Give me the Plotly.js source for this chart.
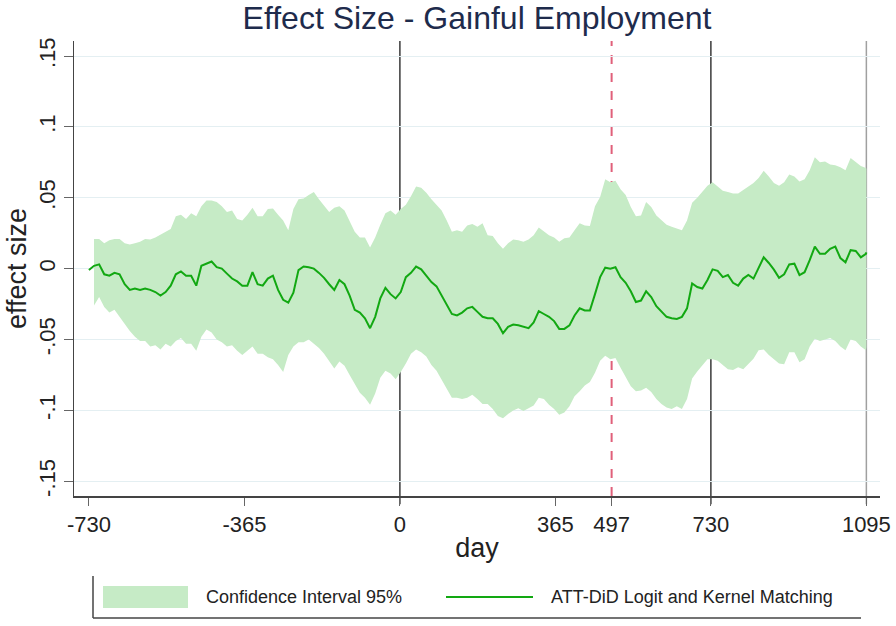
<!DOCTYPE html>
<html>
<head>
<meta charset="utf-8">
<script src="https://cdn.plot.ly/plotly-3.0.1.min.js"></script>
<style>html,body{margin:0;padding:0;background:#fff;}#chart{width:896px;height:626px;}</style>
</head>
<body>
<div id="chart"></div>
<script>
// day axis of the estimated effect
var days = [-730,-718,-706,-694,-682,-670,-658,-646,-634,-622,-610,-598,-586,-574,-562,-550,-538,-526,-514,-502,
-490,-478,-466,-454,-442,-430,-418,-406,-394,-382,-370,-358,-346,-334,-322,-310,-298,-286,-274,-262,
-250,-238,-226,-214,-202,-190,-178,-166,-154,-142,-130,-118,-106,-94,-82,-70,-58,-46,-34,-22,
-10,2,14,26,38,50,62,74,86,98,110,122,134,146,158,170,182,194,206,218,
230,242,254,266,278,290,302,314,326,338,350,362,374,386,398,410,422,434,446,458,
470,482,494,506,518,530,542,554,566,578,590,602,614,626,638,650,662,674,686,698,
710,722,734,746,758,770,782,794,806,818,830,842,854,866,878,890,902,914,926,938,
950,962,974,986,998,1010,1022,1034,1046,1058,1070,1082,1094,1095];

// ATT-DiD Logit and Kernel Matching
var att = [-0.001,0.002,0.003,-0.004,-0.005,-0.003,-0.004,-0.011,-0.015,-0.014,-0.015,-0.014,-0.015,-0.0165,-0.019,-0.0165,-0.012,-0.004,-0.002,-0.005,
-0.005,-0.012,0.002,0.0035,0.005,0.001,0,-0.0035,-0.007,-0.009,-0.012,-0.012,-0.0025,-0.011,-0.012,-0.007,-0.005,-0.015,-0.022,-0.024,
-0.017,-0.001,0.0015,0.001,0,-0.003,-0.0065,-0.011,-0.015,-0.008,-0.011,-0.019,-0.029,-0.031,-0.035,-0.042,-0.034,-0.021,-0.0135,-0.018,
-0.021,-0.0165,-0.006,-0.003,0.0015,-0.0005,-0.005,-0.0095,-0.0125,-0.019,-0.025,-0.032,-0.033,-0.031,-0.028,-0.027,-0.0305,-0.034,-0.035,-0.035,
-0.039,-0.0455,-0.041,-0.0395,-0.040,-0.041,-0.042,-0.038,-0.030,-0.032,-0.034,-0.037,-0.0425,-0.0425,-0.040,-0.033,-0.028,-0.0295,-0.0295,-0.018,
-0.006,0.0007,0,0.001,-0.006,-0.010,-0.016,-0.0235,-0.0225,-0.016,-0.020,-0.0265,-0.0305,-0.034,-0.035,-0.0355,-0.034,-0.028,-0.0105,-0.013,
-0.014,-0.008,-0.0005,-0.0015,-0.006,-0.0045,-0.010,-0.012,-0.007,-0.0045,-0.007,0.0007,0.008,0.004,-0.0007,-0.0065,-0.004,0.003,0.0035,-0.0045,
-0.0025,0.006,0.0155,0.0105,0.0105,0.014,0.0155,0.0075,0.0045,0.013,0.0125,0.008,0.0105,0.0115];

// 95% confidence interval (starts at day -718)
var ciDays = days.slice(1);
var ciUpper = [0.021,0.021,0.018,0.020,0.021,0.021,0.018,0.017,0.018,0.019,0.021,0.0205,0.022,0.024,0.026,0.028,0.037,0.038,0.035,
0.039,0.037,0.044,0.048,0.048,0.047,0.044,0.040,0.041,0.035,0.034,0.038,0.043,0.037,0.037,0.042,0.0425,0.038,0.034,0.027,
0.042,0.049,0.0495,0.052,0.054,0.049,0.0445,0.040,0.043,0.044,0.041,0.034,0.026,0.022,0.022,0.015,0.022,0.031,0.039,0.041,
0.038,0.042,0.045,0.051,0.058,0.057,0.0535,0.049,0.045,0.041,0.034,0.026,0.027,0.026,0.0305,0.0315,0.0295,0.032,0.0235,0.023,
0.018,0.014,0.018,0.0205,0.020,0.019,0.0205,0.0235,0.029,0.026,0.0235,0.022,0.019,0.0215,0.022,0.027,0.032,0.0305,0.030,0.044,
0.0505,0.063,0.061,0.062,0.056,0.052,0.0435,0.037,0.0375,0.047,0.0435,0.0375,0.034,0.031,0.0295,0.028,0.027,0.034,0.0465,0.050,
0.054,0.0585,0.061,0.058,0.055,0.054,0.053,0.053,0.0555,0.058,0.0605,0.064,0.069,0.065,0.0605,0.0585,0.061,0.0665,0.065,0.0615,
0.063,0.0695,0.0785,0.075,0.0755,0.0735,0.073,0.0715,0.0695,0.078,0.075,0.0725,0.071,0.0705];
var ciLower = [-0.026,-0.020,-0.027,-0.031,-0.029,-0.034,-0.039,-0.044,-0.048,-0.051,-0.051,-0.055,-0.054,-0.057,-0.053,-0.055,-0.051,-0.049,-0.053,
-0.053,-0.058,-0.048,-0.043,-0.045,-0.050,-0.052,-0.055,-0.054,-0.058,-0.061,-0.058,-0.055,-0.060,-0.060,-0.0625,-0.064,-0.068,-0.073,-0.061,
-0.055,-0.052,-0.052,-0.050,-0.053,-0.056,-0.060,-0.065,-0.0705,-0.0655,-0.0685,-0.075,-0.081,-0.0875,-0.091,-0.096,-0.088,-0.077,-0.072,-0.074,
-0.078,-0.073,-0.067,-0.060,-0.057,-0.059,-0.062,-0.068,-0.072,-0.078,-0.085,-0.091,-0.091,-0.092,-0.091,-0.089,-0.092,-0.0955,-0.0955,-0.099,
-0.104,-0.1055,-0.1025,-0.100,-0.0985,-0.1005,-0.0985,-0.0965,-0.091,-0.092,-0.096,-0.099,-0.103,-0.1015,-0.097,-0.090,-0.0865,-0.0825,-0.080,-0.0735,
-0.065,-0.0615,-0.064,-0.063,-0.070,-0.076,-0.083,-0.0865,-0.086,-0.084,-0.087,-0.092,-0.0955,-0.098,-0.099,-0.097,-0.099,-0.092,-0.0775,-0.0725,
-0.068,-0.064,-0.064,-0.065,-0.068,-0.071,-0.0715,-0.0695,-0.071,-0.067,-0.0635,-0.0575,-0.057,-0.061,-0.064,-0.067,-0.0675,-0.059,-0.059,-0.066,
-0.064,-0.055,-0.0495,-0.051,-0.050,-0.049,-0.051,-0.055,-0.0575,-0.050,-0.051,-0.055,-0.0575,-0.0555];

var xTickVals = [-730,-365,0,365,497,730,1095];
var xTickText = ['-730','-365','0','365','497','730','1095'];
var yTickVals = [-0.15,-0.1,-0.05,0,0.05,0.1,0.15];
var yTickText = ['-.15','-.1','-.05','0','.05','.1','.15'];
var blackLines = [0,730];
var greyLines = [1095];
var redLines = [497];

var FONT = 'Liberation Sans, Arial, sans-serif';
var bandColor = '#c6ebc6';
var lineColor = '#12a812';

var traces = [
  {x: ciDays, y: ciLower, type: 'scatter', mode: 'lines', line: {width: 0, color: bandColor}, showlegend: false, hoverinfo: 'skip'},
  {x: ciDays, y: ciUpper, type: 'scatter', mode: 'lines', line: {width: 0, color: bandColor}, fill: 'tonexty', fillcolor: bandColor, showlegend: false, name: 'Confidence Interval 95%'},
  {x: days, y: att, type: 'scatter', mode: 'lines', line: {width: 2, color: lineColor}, showlegend: false, name: 'ATT-DiD Logit and Kernel Matching'}
];

var shapes = [];
blackLines.forEach(function(d){ shapes.push({type:'line', xref:'x', yref:'paper', x0:d, x1:d, y0:-0.018, y1:1, layer:'between', line:{color:'#3a3a3a', width:1.5}}); });
greyLines.forEach(function(d){ shapes.push({type:'line', xref:'x', yref:'paper', x0:d, x1:d, y0:-0.018, y1:1, layer:'between', line:{color:'#a0a0a0', width:1.5}}); });
redLines.forEach(function(d){ shapes.push({type:'line', xref:'x', yref:'paper', x0:d, x1:d, y0:0, y1:1, layer:'between', line:{color:'#e0607a', width:2, dash:'dash'}}); });

// custom legend (paper coordinates)
function px2x(p){ return (p - 74) / 806; }
function py2y(p){ return (496 - p) / 455; }
shapes.push({type:'line', xref:'paper', yref:'paper', x0:px2x(93), x1:px2x(93), y0:py2y(576), y1:py2y(618), line:{color:'#444', width:1.5}});
shapes.push({type:'line', xref:'paper', yref:'paper', x0:px2x(93), x1:px2x(861), y0:py2y(618), y1:py2y(618), line:{color:'#444', width:1.5}});
shapes.push({type:'rect', xref:'paper', yref:'paper', x0:px2x(103), x1:px2x(188), y0:py2y(608), y1:py2y(586), fillcolor:bandColor, line:{width:0}});
shapes.push({type:'line', xref:'paper', yref:'paper', x0:px2x(446), x1:px2x(533), y0:py2y(597), y1:py2y(597), line:{color:lineColor, width:2}});

var annotations = [
  {xref:'paper', yref:'paper', x:px2x(204), y:py2y(597), xanchor:'left', yanchor:'middle', showarrow:false, text:traces[1].name, font:{family:FONT, size:18, color:'#222'}},
  {xref:'paper', yref:'paper', x:px2x(549), y:py2y(597), xanchor:'left', yanchor:'middle', showarrow:false, text:traces[2].name, font:{family:FONT, size:18, color:'#222'}}
];

var layout = {
  width: 896, height: 626,
  margin: {l: 74, r: 16, t: 41, b: 130},
  paper_bgcolor: '#fff', plot_bgcolor: '#fff',
  font: {family: FONT, color: '#222'},
  title: {text: 'Effect Size - Gainful Employment', xref: 'paper', x: 0.5, xanchor: 'center', yref: 'container', y: 0.971, yanchor: 'middle', font: {family: FONT, size: 32, color: '#1e2b4c'}},
  xaxis: {
    range: [-765, 1127], tickvals: xTickVals, ticktext: xTickText,
    showgrid: false, zeroline: false, showline: true, linecolor: '#444', linewidth: 1.5,
    ticks: 'outside', ticklen: 8, tickcolor: '#666', tickwidth: 1,
    tickfont: {family: FONT, size: 22, color: '#222'},
    title: {text: 'day', font: {family: FONT, size: 27, color: '#222'}, standoff: 2}
  },
  yaxis: {
    range: [-0.1604, 0.1606], tickvals: yTickVals, ticktext: yTickText, tickangle: -90,
    showgrid: true, gridcolor: '#e4eff2', gridwidth: 1, zeroline: false,
    showline: true, linecolor: '#444', linewidth: 1.5,
    ticks: 'outside', ticklen: 9, tickcolor: '#666', tickwidth: 1,
    tickfont: {family: FONT, size: 22, color: '#222'},
    title: {text: 'effect size', font: {family: FONT, size: 27, color: '#222'}, standoff: 0}
  },
  shapes: shapes,
  annotations: annotations,
  showlegend: false
};

Plotly.newPlot('chart', traces, layout, {staticPlot: true, displayModeBar: false});
</script>
</body>
</html>
